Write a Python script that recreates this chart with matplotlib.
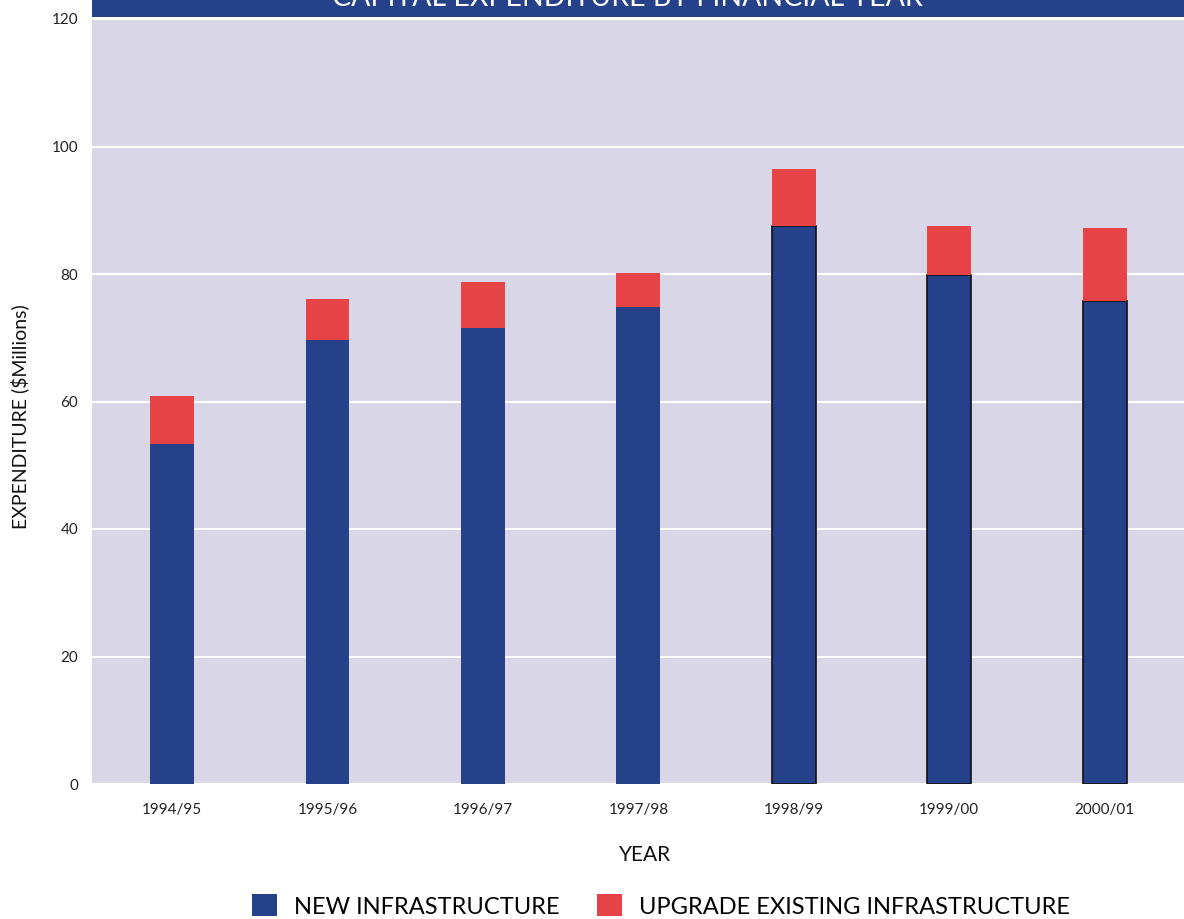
import matplotlib.pyplot as plt
from matplotlib.patches import Rectangle, Patch

years = ['1994/95', '1995/96', '1996/97', '1997/98', '1998/99', '1999/00', '2000/01']
new_infra = [53.4, 69.7, 71.6, 74.9, 87.6, 79.9, 75.7]
upgrade = [7.5, 6.3, 7.1, 5.2, 8.8, 7.6, 11.5]
edged = [False, False, False, False, True, True, True]

BLUE = '#25418a'
RED = '#e54346'
BG = '#d9d6e8'

plt.rcParams['font.family'] = ['Lato', 'DejaVu Sans']

fig = plt.figure(figsize=(11.84, 9.19), dpi=100)
W, H = 1184, 919
ax = fig.add_axes([92 / W, 1 - 784 / H, 1 - 92 / W, (784 - 19) / H])
ax.set_facecolor(BG)

x = range(len(years))
for i in x:
    ec = '#111111' if edged[i] else 'none'
    ax.bar(i, new_infra[i], width=0.283, color=BLUE, edgecolor=ec, linewidth=1.2, zorder=3)
    ax.bar(i, upgrade[i], bottom=new_infra[i], width=0.283, color=RED, zorder=3)

ax.set_xlim(-0.515, 6.51)
ax.set_ylim(0, 120)
ax.set_yticks(range(0, 121, 20))
ax.set_xticks(list(x))
ax.set_xticklabels(years)
ax.tick_params(length=0, labelsize=11, colors='#222222')
ax.tick_params(axis='x', pad=14)
ax.tick_params(axis='y', pad=10)
ax.yaxis.grid(True, color='white', lw=1.5, zorder=1)
for s in ax.spines.values():
    s.set_visible(False)

ax.set_xlabel('YEAR', fontsize=15, color='#111111')
ax.set_ylabel('EXPENDITURE ($Millions)', fontsize=14, color='#111111')
ax.xaxis.set_label_coords((645 - 92) / (W - 92), -(845 - 784) / 765, transform=ax.transAxes)
ax.yaxis.set_label_coords(-(92 - 29) / (W - 92), (784 - 417) / 765, transform=ax.transAxes)

# title band, clipped at the top of the image
fig.patches.append(Rectangle((92 / W, 1 - 17 / H), 1 - 92 / W, 40 / H,
                             transform=fig.transFigure, facecolor=BLUE,
                             edgecolor='none', zorder=5))
fig.text(627 / W, 1 - 6 / H, 'CAPITAL EXPENDITURE BY FINANCIAL YEAR', color='white',
         fontsize=20.5, ha='center', va='baseline', zorder=6)

handles = [Patch(facecolor=BLUE, label='NEW INFRASTRUCTURE'),
           Patch(facecolor=RED, label='UPGRADE EXISTING INFRASTRUCTURE')]
fig.legend(handles=handles, loc='center', bbox_to_anchor=(661 / W, 1 - 906 / H),
           ncol=2, frameon=False, fontsize=17, handlelength=1.05, handleheight=1.05,
           handletextpad=0.7, columnspacing=1.6)

fig.savefig('out.png', dpi=100)
